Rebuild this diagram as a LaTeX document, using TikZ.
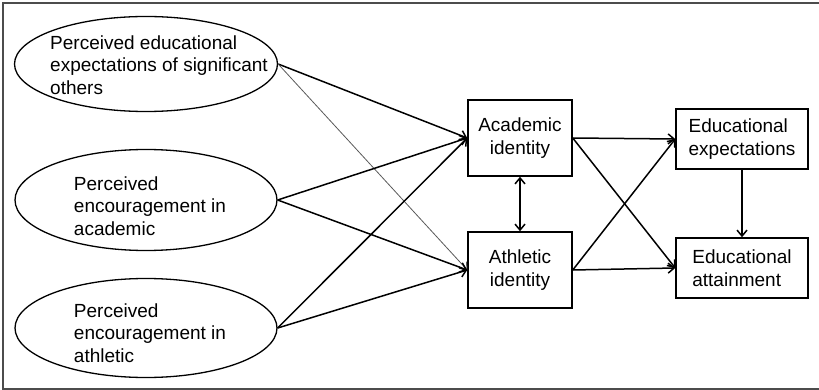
\documentclass[tikz,border=0pt]{standalone}
\usepackage{fontspec}
\setmainfont{Liberation Sans}
\usetikzlibrary{arrows.meta,shapes.geometric}

\begin{document}
\begin{tikzpicture}[x=1pt,y=-1pt,>={Straight Barb[length=6pt,width=10pt]},
  oval/.style={draw,ellipse,line width=1.3pt,inner sep=0pt},
  box/.style={draw,rectangle,line width=1.5pt,inner sep=0pt,
    font=\fontsize{19}{22.5}\selectfont},
  lbl/.style={align=left,font=\fontsize{19}{22.5}\selectfont},
  link/.style={line width=1.5pt,->}]
  \useasboundingbox (0,0) rectangle (819,390);
  \draw[line width=2pt,gray!60!black] (819,3) -| (3,389) -- (819,389);
  \node[oval,minimum width=263pt,minimum height=95pt]  (PE1) at (146,64)  {};
  \node[oval,minimum width=262pt,minimum height=101pt] (PE2) at (146,200) {};
  \node[oval,minimum width=262pt,minimum height=99pt]  (PE3) at (146,328) {};
  \node[lbl] (PE1t) at (159,65)
    {Perceived educational\\expectations of significant\\others};
  \node[lbl] (PE2t) at (150,206) {Perceived\\encouragement in\\academic};
  \node[lbl] (PE3t) at (150,333) {Perceived\\encouragement in\\athletic};
  \node[box,align=center,minimum width=104pt,minimum height=76pt]
    (AcI) at (520,138) {Academic\\identity};
  \node[box,align=center,minimum width=104pt,minimum height=76pt]
    (AtI) at (520,270) {Athletic\\identity};
  \node[box,align=left,minimum width=132pt,minimum height=60pt]
    (EdE) at (742,139) {Educational\\expectations};
  \node[box,align=left,minimum width=132pt,minimum height=60pt]
    (EdA) at (742,268) {Educational\\attainment};
  \draw[link] (PE1.east) -- (AcI.west);
  \draw[line width=0.8pt,gray!70!black,->] (PE1.east) -- (AtI.west);
  \draw[link] (PE2.east) -- (AcI.west);
  \draw[link] (PE2.east) -- (AtI.west);
  \draw[link] (PE3.east) -- (AcI.west);
  \draw[link] (PE3.east) -- (AtI.west);
  \draw[link,<->] (AcI.south) -- (AtI.north);
  \draw[link] (AcI.east) -- (EdE.west);
  \draw[link] (AcI.east) -- (EdA.west);
  \draw[link] (AtI.east) -- (EdA.west);
  \draw[link] (AtI.east) -- (EdE.west);
  \draw[link] (EdE.south) -- (EdA.north);
\end{tikzpicture}
\end{document}
